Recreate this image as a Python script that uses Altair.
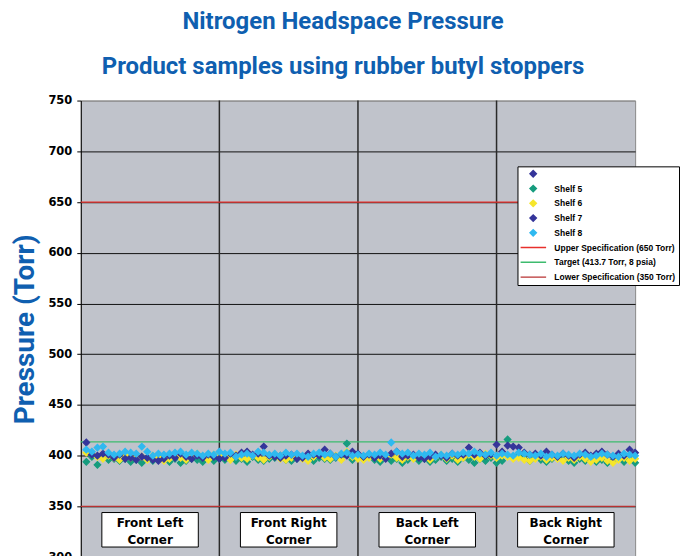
import altair as alt
import pandas as pd

# ---------------- data ----------------
sample_no = list(range(1, 101))

shelf5 = [394, 399, 391, 398, 396, 397, 395, 397, 394, 396, 393, 397, 395, 398, 396, 394, 397, 393, 395, 397, 396, 394, 398, 395, 397,
          396, 398, 395, 397, 394, 399, 396, 395, 397, 398, 400, 396, 395, 397, 399, 396, 395, 398, 397, 396, 398, 399, 412, 396, 401,
          397, 399, 396, 394, 398, 395, 397, 393, 396, 398, 395, 397, 394, 396, 399, 395, 397, 394, 398, 396, 393, 397, 395, 398, 393,
          395, 416, 399, 401, 397, 395, 398, 396, 394, 397, 399, 396, 395, 393, 397, 395, 398, 394, 396, 393, 395, 397, 394, 396, 393]
shelf6 = [403, 402, 399, 397, 400, 398, 396, 401, 398, 397, 399, 396, 400, 398, 395, 397, 399, 398, 396, 400, 402, 399, 396, 401, 400,
          399, 396, 401, 398, 397, 400, 398, 396, 399, 401, 397, 396, 398, 400, 397, 395, 399, 401, 398, 397, 400, 396, 404, 399, 397,
          396, 398, 400, 397, 399, 401, 398, 396, 399, 397, 400, 398, 396, 399, 401, 397, 400, 396, 398, 401, 399, 397, 402, 400, 398,
          400, 399, 397, 398, 396, 395, 397, 399, 396, 398, 397, 395, 398, 396, 399, 397, 394, 396, 398, 395, 393, 396, 398, 395, 397]
shelf7 = [413, 401, 400, 402, 401, 398, 401, 397, 398, 396, 399, 398, 396, 395, 397, 400, 398, 402, 399, 397, 400, 398, 401, 399, 397,
          398, 402, 400, 403, 404, 401, 402, 409, 400, 399, 398, 400, 401, 397, 398, 402, 401, 400, 406, 402, 399, 401, 400, 404, 402,
          399, 401, 398, 400, 397, 402, 404, 399, 400, 401, 398, 397, 399, 401, 400, 398, 402, 400, 401, 408, 401, 403, 400, 401, 411,
          404, 410, 409, 408, 403, 401, 402, 400, 404, 401, 399, 402, 400, 398, 401, 403, 400, 402, 404, 401, 399, 402, 400, 406, 403]
shelf8 = [406, 404, 408, 409, 403, 401, 402, 404, 403, 402, 409, 404, 400, 402, 401, 402, 403, 404, 401, 403, 402, 400, 402, 401, 404,
          402, 403, 399, 401, 402, 400, 404, 403, 401, 402, 400, 403, 401, 402, 400, 399, 402, 403, 401, 402, 399, 402, 403, 400, 401,
          400, 402, 401, 403, 401, 413, 404, 402, 403, 400, 402, 401, 403, 399, 401, 400, 402, 401, 403, 402, 404, 402, 401, 403, 400,
          402, 401, 400, 403, 402, 401, 400, 402, 399, 401, 400, 402, 401, 400, 402, 401, 399, 400, 402, 401, 400, 399, 402, 401, 400]

series_names = ["Series 1", "Shelf 5", "Shelf 6", "Shelf 7", "Shelf 8",
                "Upper Specification (650 Torr)", "Target (413.7 Torr, 8 psia)",
                "Lower Specification (350 Torr)"]
series_colors = ["#35359a", "#169c7e", "#f6e62b", "#35359a", "#2fb9f0",
                 "#e8302c", "#3dbb6e", "#b83232"]
LINE_SYMBOL = "M-4.1,0H4.1"
series_shapes = ["diamond"] * 5 + [LINE_SYMBOL] * 3

spec_names = series_names[5:]
spec_values = [650, 413.7, 350]

corner_labels = ["Front Left\nCorner", "Front Right\nCorner",
                 "Back Left\nCorner", "Back Right\nCorner"]
section_bounds = [25, 50, 75]
y_ticks = [300, 350, 400, 450, 500, 550, 600, 650, 700, 750]

# ---------------- tables ----------------
rows = []
for name, vals in [("Shelf 5", shelf5), ("Shelf 6", shelf6),
                   ("Shelf 7", shelf7), ("Shelf 8", shelf8)]:
    for i, v in zip(sample_no, vals):
        rows.append({"sample": i, "pressure": v, "series": name, "order": series_names.index(name)})
df_pts = pd.DataFrame(rows)
df_spec = pd.DataFrame({"series": spec_names, "value": spec_values})
df_bounds = pd.DataFrame({"x": section_bounds})
n_sec = len(corner_labels)
sec_w = 100 / n_sec
df_box = pd.DataFrame({
    "label": corner_labels,
    "xc": [sec_w * k + sec_w / 2 for k in range(n_sec)],
})
df_box["x1"] = df_box["xc"] - 8.7
df_box["x2"] = df_box["xc"] + 8.7
df_box["y1"] = 344
df_box["y2"] = 310
df_box["yc"] = 327

# ---------------- chart ----------------
BLUE = "#0f5fb0"
xs = alt.Scale(domain=[0, 100], nice=False, zero=False)
ys = alt.Scale(domain=[300, 750], nice=False, zero=False)

yaxis = alt.Axis(
    values=y_ticks, title="Pressure (Torr)", titleFont="Roboto", titleFontSize=28,
    titleFontWeight="bold", titleColor=BLUE, titlePadding=8,
    labelFont="DejaVu Sans", labelFontSize=11.5, labelFontWeight="bold",
    labelColor="black", labelPadding=5, tickSize=4, tickColor="black",
    domainColor="black", grid=True, gridWidth=1,
    gridColor={"condition": {"test": "datum.value >= 750", "value": "#8a8a8a"}, "value": "#111111"},
)

legend = alt.Legend(
    title=None, orient="none", legendX=438, legendY=66,
    fillColor="white", strokeColor="black", padding=3,
    labelFont="Liberation Sans", labelFontSize=8.5, labelFontWeight="bold",
    labelColor="black", labelLimit=300,
    symbolSize=40, clipHeight=9, rowPadding=5.8, symbolOffset=8.5, labelOffset=17,
    labelExpr="datum.label == 'Series 1' ? '' : datum.label",
)

fill = alt.Fill("series:N", scale=alt.Scale(domain=series_names, range=series_colors), legend=legend)
stroke = alt.Stroke("series:N", scale=alt.Scale(domain=series_names, range=series_colors), legend=legend)
shape = alt.Shape("series:N", scale=alt.Scale(domain=series_names, range=series_shapes), legend=legend)

vlines = alt.Chart(df_bounds).mark_rule(color="#2a2a2a", strokeWidth=1.5).encode(
    x=alt.X("x:Q", scale=xs, axis=None))

spec = alt.Chart(df_spec).mark_rule(strokeWidth=1.2).encode(
    y=alt.Y("value:Q", scale=ys, axis=yaxis), stroke=stroke)

points = alt.Chart(df_pts).mark_point(filled=True, opacity=1, strokeWidth=1.2, size=44).encode(
    x=alt.X("sample:Q", scale=xs, axis=None),
    y=alt.Y("pressure:Q", scale=ys, axis=yaxis),
    fill=fill, stroke=stroke, shape=shape, order="order:Q")

boxes = alt.Chart(df_box).mark_rect(fill="white", stroke="black", strokeWidth=1).encode(
    x=alt.X("x1:Q", scale=xs, axis=None), x2="x2:Q",
    y=alt.Y("y1:Q", scale=ys, axis=yaxis), y2="y2:Q")

texts = alt.Chart(df_box).mark_text(
    font="DejaVu Sans", fontSize=12, fontWeight="bold", color="black",
    lineBreak="\n", lineHeight=17, baseline="middle", align="center", dy=-7).encode(
    x=alt.X("xc:Q", scale=xs, axis=None),
    y=alt.Y("yc:Q", scale=ys, axis=yaxis), text="label:N")

chart = alt.layer(vlines, spec, points, boxes, texts).properties(
    width=556, height=458,
    padding={"left": 3, "top": 1, "right": 0, "bottom": 0},
    title=alt.TitleParams(
        text=["Nitrogen Headspace Pressure", "Product samples using rubber butyl stoppers"],
        font="Roboto", fontSize=24, fontWeight="bold", color=BLUE,
        lineHeight=45, anchor="middle", dx=-15, offset=16),
).configure_view(fill="#c0c3cb", stroke="#8a8a8a")

chart.save("out.html", embed_options={"renderer": "svg", "actions": False})
